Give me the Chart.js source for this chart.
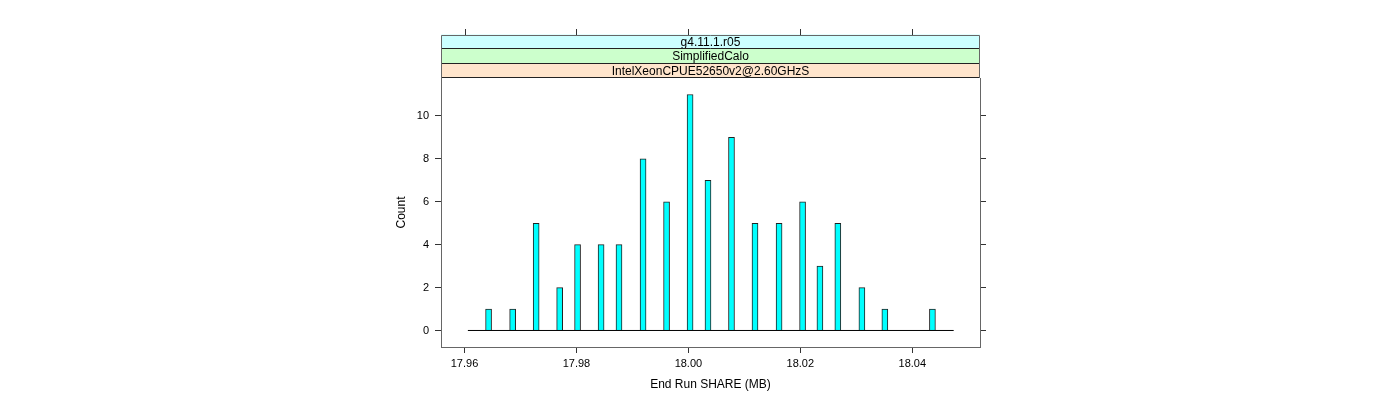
<!DOCTYPE html>
<html>
<head>
<meta charset="utf-8">
<script src="https://cdn.jsdelivr.net/npm/chart.js@4.4.1/dist/chart.umd.min.js"></script>
<style>
  html, body { margin: 0; padding: 0; background: #fff; }
  #wrap { width: 1400px; height: 400px; }
</style>
</head>
<body>
<div id="wrap"><canvas id="histChart" width="1400" height="400"></canvas></div>
<script>
// histogram bins (midpoints, MB) and counts
const binMids = [17.9643, 17.9686, 17.9728, 17.9770, 17.9802, 17.9844, 17.9876, 17.9919, 17.9961, 18.0003,
                 18.0035, 18.0077, 18.0119, 18.0162, 18.0204, 18.0235, 18.0267, 18.0310, 18.0351, 18.0436];
const counts = [1, 1, 5, 2, 4, 4, 4, 8, 6, 11, 7, 9, 5, 5, 6, 3, 5, 2, 1, 1];
const histRange = [17.9606, 18.0474];
const xTicks = [17.96, 17.98, 18.00, 18.02, 18.04];
const yTicks = [0, 2, 4, 6, 8, 10];
const stripLabels = ['g4.11.1.r05', 'SimplifiedCalo', 'IntelXeonCPUE52650v2@2.60GHzS'];
const stripColors = ['#ccffff', '#ccffcc', '#ffe5cc'];

const FONT = "'Liberation Sans', Arial, sans-serif";
const boxColor = '#666';

const stripPlugin = {
  id: 'strips',
  afterDraw(chart) {
    const { ctx, chartArea } = chart;
    const xs = chart.scales.x;
    const h = 14.5;
    const top = chartArea.top - h * stripLabels.length;
    ctx.save();
    ctx.font = '12px ' + FONT;
    ctx.textAlign = 'center';
    ctx.textBaseline = 'middle';
    stripLabels.forEach((lab, i) => {
      const y = top + i * h;
      ctx.fillStyle = stripColors[i];
      ctx.fillRect(chartArea.left, y, chartArea.right - chartArea.left, h);
      ctx.fillStyle = '#000';
      ctx.fillText(lab, (chartArea.left + chartArea.right) / 2, y + h / 2 + 0.5);
    });
    // separators between strips
    ctx.strokeStyle = '#222';
    ctx.lineWidth = 1;
    for (let i = 1; i <= stripLabels.length; i++) {
      const y = Math.round(top + i * h) - 0.5;
      ctx.beginPath();
      ctx.moveTo(chartArea.left, y);
      ctx.lineTo(chartArea.right, y);
      ctx.stroke();
    }
    // outer box of the strips
    ctx.strokeStyle = boxColor;
    ctx.beginPath();
    ctx.moveTo(chartArea.left + 0.5, chartArea.top);
    ctx.lineTo(chartArea.left + 0.5, Math.round(top) + 0.5);
    ctx.lineTo(chartArea.right - 0.5, Math.round(top) + 0.5);
    ctx.lineTo(chartArea.right - 0.5, chartArea.top);
    ctx.stroke();
    // top tick marks
    ctx.strokeStyle = '#333';
    xTicks.forEach(v => {
      const px = Math.round(xs.getPixelForValue(v)) + 0.5;
      ctx.beginPath();
      ctx.moveTo(px, Math.round(top));
      ctx.lineTo(px, Math.round(top) - 6);
      ctx.stroke();
    });
    ctx.restore();
  }
};

new Chart(document.getElementById('histChart'), {
  type: 'bar',
  data: {
    datasets: [
      {
        type: 'line',
        data: histRange.map(v => ({ x: v, y: 0 })),
        borderColor: '#000',
        borderWidth: 1,
        pointRadius: 0,
        order: 0
      },
      {
        data: binMids.map((v, i) => ({ x: v, y: counts[i] })),
        backgroundColor: '#00ffff',
        borderColor: '#222',
        borderWidth: 1,
        barThickness: 6,
        grouped: false,
        order: 1
      }
    ]
  },
  options: {
    responsive: false,
    animation: false,
    events: [],
    layout: { padding: { left: 390, right: 413, top: 78, bottom: 0 } },
    plugins: {
      legend: { display: false },
      tooltip: { enabled: false }
    },
    scales: {
      x: {
        type: 'linear',
        position: 'bottom',
        offset: false,
        min: 17.9558,
        max: 18.0521,
        afterBuildTicks: s => { s.ticks = xTicks.map(v => ({ value: v })); },
        afterFit: s => { s.height = 53; },
        ticks: {
          color: '#000',
          font: { family: FONT, size: 11 },
          padding: 4,
          maxRotation: 0,
          callback: v => v.toFixed(2)
        },
        grid: { display: true, offset: false, drawOnChartArea: false, drawTicks: true, tickLength: 6, color: '#333' },
        border: { display: true, color: boxColor },
        title: {
          display: true,
          text: 'End Run SHARE (MB)',
          color: '#000',
          font: { family: FONT, size: 12 },
          padding: { top: 0, bottom: 8 }
        }
      },
      y: {
        position: 'left',
        min: -0.77,
        max: 11.77,
        afterBuildTicks: s => { s.ticks = yTicks.map(v => ({ value: v })); },
        afterFit: s => { s.width = 51; },
        ticks: {
          color: '#000',
          font: { family: FONT, size: 11 },
          padding: 6
        },
        grid: { display: true, offset: false, drawOnChartArea: false, drawTicks: true, tickLength: 6, color: '#333' },
        border: { display: true, color: boxColor },
        title: {
          display: true,
          text: 'Count',
          color: '#000',
          font: { family: FONT, size: 12 },
          padding: { top: 4, bottom: 0 }
        }
      },
      y2: {
        position: 'right',
        min: -0.77,
        max: 11.77,
        afterBuildTicks: s => { s.ticks = yTicks.map(v => ({ value: v })); },
        afterFit: s => { s.width = 7; },
        ticks: { display: false },
        grid: { display: true, offset: false, drawOnChartArea: false, drawTicks: true, tickLength: 6, color: '#333' },
        border: { display: true, color: boxColor }
      }
    }
  },
  plugins: [stripPlugin]
});
</script>
</body>
</html>
